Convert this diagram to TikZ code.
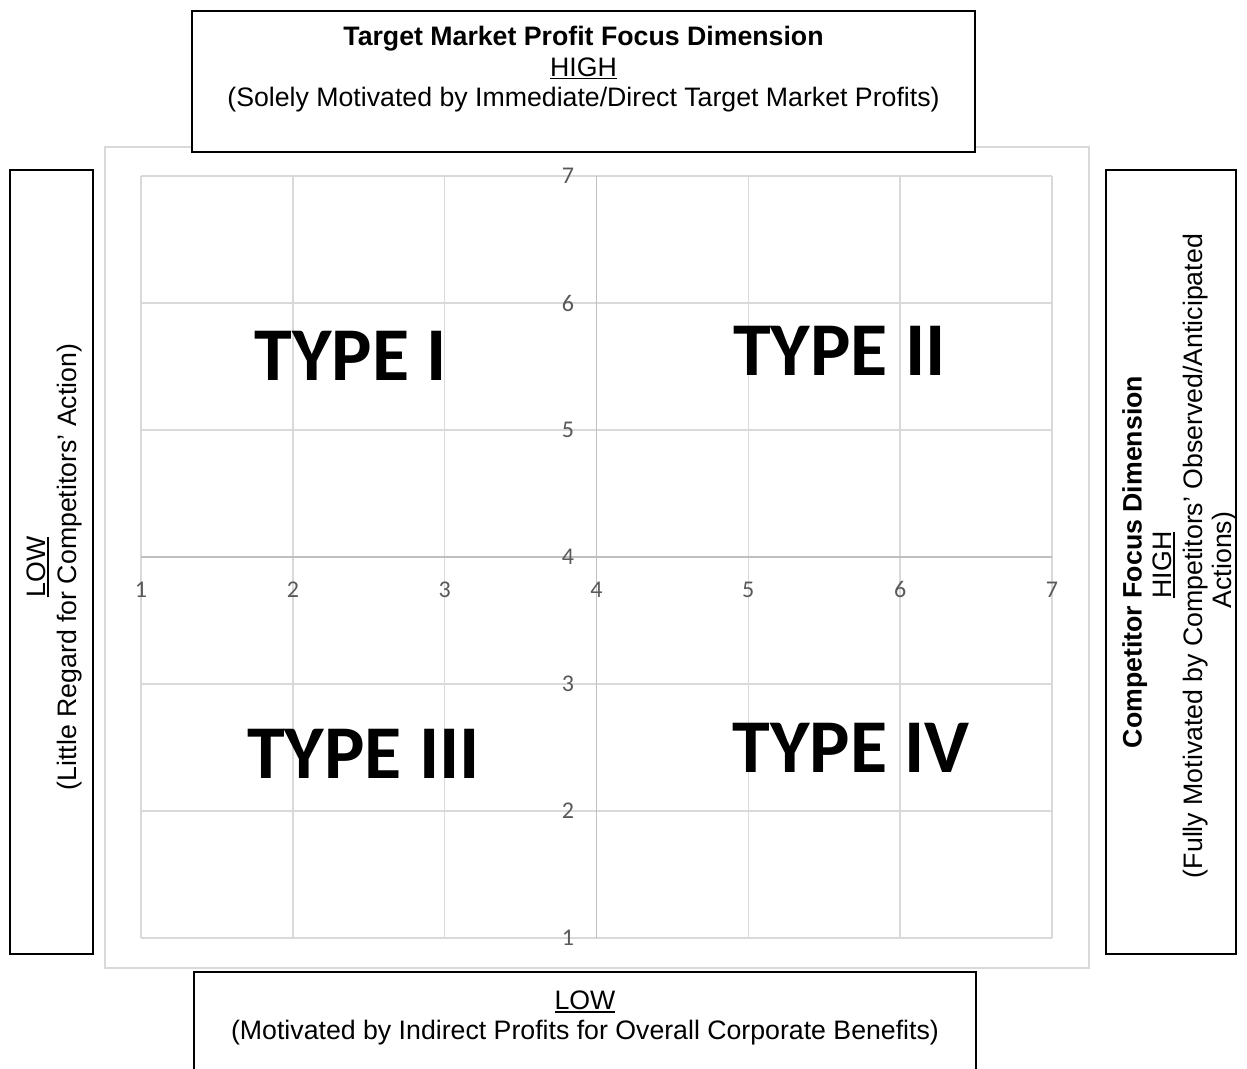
\documentclass[tikz,border=0pt]{standalone}
\usepackage{fontspec}
\setmainfont{Liberation Sans}
\newfontfamily\calfont{Carlito}
\definecolor{gridc}{HTML}{D9D9D9}
\definecolor{axisc}{HTML}{BFBFBF}
\definecolor{labc}{HTML}{595959}
\newsavebox\ulbox
\newcommand\myul[1]{\sbox\ulbox{#1}\rlap{\rule[-3.3pt]{\wd\ulbox}{1.6pt}}\usebox\ulbox}
\tikzset{
  frame/.style={draw=black, line width=1.4pt, fill=white, inner sep=0pt, outer sep=0pt},
  chartframe/.style={draw=gridc, line width=1.3pt, inner sep=0pt},
  txt/.style={inner sep=0pt, anchor=base, font=\fontsize{26.7}{30.5}\selectfont},
  btxt/.style={txt, font=\fontsize{26.7}{30.5}\selectfont\bfseries},
  vtxt/.style={rotate=90},
  gridline/.style={draw=gridc, line width=1.6pt},
  axisline/.style={draw=axisc, line width=1.6pt},
  ticklab/.style={inner sep=0pt, font=\calfont\fontsize{24}{24}\selectfont, text=labc},
  typelab/.style={inner sep=0pt, anchor=base, font=\calfont\bfseries\fontsize{76}{76}\selectfont}
}
\begin{document}
\begin{tikzpicture}[x=1pt,y=-1pt]
\useasboundingbox (0,0) rectangle (1247,1068);
\clip (0,0) rectangle (1247,1068);
\fill[white] (0,0) rectangle (1247,1068);

% chart area
\node[chartframe, minimum width=984pt, minimum height=821pt] (chart) at (597,557.5) {};

% grid
\foreach \i in {0,...,6}
  \draw[gridline] ({141+\i*151.83},176) -- ({141+\i*151.83},938);
\foreach \j in {0,...,6}
  \draw[gridline] (141,{176+\j*127}) -- (1052,{176+\j*127});
% axes
\draw[axisline] (596.5,176) -- (596.5,938);
\draw[axisline] (141,557) -- (1052,557);

% axis labels
\foreach \j/\v in {0/7,1/6,2/5,3/4,4/3,5/2,6/1}
  \node[ticklab] (yl\v) at (568,{176+\j*127}) {\v};
\foreach \i in {1,...,7}
  \node[ticklab] (xl\i) at ({141+(\i-1)*151.83},589.5) {\i};

% quadrant labels
\node[typelab] (t1) at (350.5,380.5) {TYPE I};
\node[typelab] (t2) at (839.5,375.5) {TYPE II};
\node[typelab] (t3) at (363.5,778) {TYPE III};
\node[typelab] (t4) at (851,772.7) {TYPE IV};

% top box
\node[frame, minimum width=783pt, minimum height=141pt] (topbox) at (583.5,81.5) {};
\node[btxt] (top1) at (583.5,45.7) {Target Market Profit Focus Dimension};
\node[txt] (top2) at (583.5,76) {\myul{HIGH}};
\node[txt] (top3) at (583.5,106.7) {(Solely Motivated by Immediate/Direct Target Market Profits)};

% bottom box
\node[frame, minimum width=782pt, minimum height=118pt] (botbox) at (585,1031) {};
\node[txt] (bot1) at (585,1009.3) {\myul{LOW}};
\node[txt] (bot2) at (585,1039.8) {(Motivated by Indirect Profits for Overall Corporate Benefits)};

% left box
\node[frame, minimum width=83pt, minimum height=784pt] (leftbox) at (51.5,562) {};
\node[txt, vtxt] (left1) at (45.5,567) {\myul{LOW}};
\node[txt, vtxt] (left2) at (76.5,567) {(Little Regard for Competitors’ Action)};

% right box
\node[frame, minimum width=130pt, minimum height=784pt] (rightbox) at (1171,562) {};
\node[btxt, vtxt] (right1) at (1141.7,562) {Competitor Focus Dimension};
\node[txt, vtxt] (right2) at (1171.7,565) {\myul{HIGH}};
\node[txt, vtxt] (right3) at (1202,556) {(Fully Motivated by Competitors’ Observed/Anticipated};
\node[txt, vtxt] (right4) at (1231.5,560) {Actions)};
\end{tikzpicture}
\end{document}
